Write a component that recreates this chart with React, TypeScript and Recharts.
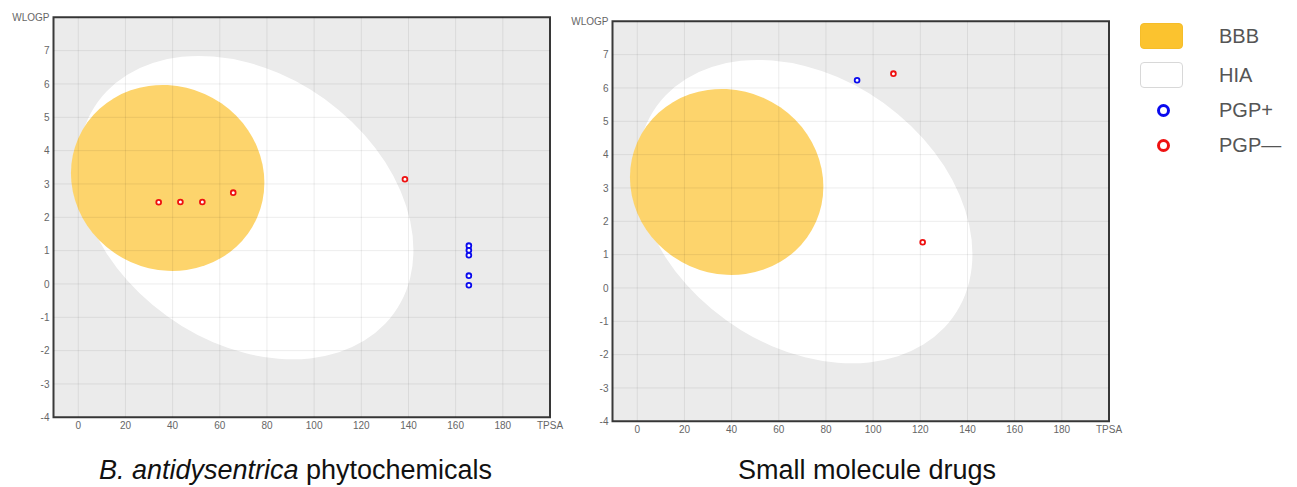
import React from 'react';
import {
  ScatterChart,
  Scatter,
  XAxis,
  YAxis,
  CartesianGrid,
  ReferenceArea,
  ReferenceLine,
} from 'recharts';

// ---- axis ticks ----
const xTicks = [0, 20, 40, 60, 80, 100, 120, 140, 160, 180, 200];
const yTicks = [-4, -3, -2, -1, 0, 1, 2, 3, 4, 5, 6, 7, 8];
const xAxisName = 'TPSA';
const yAxisName = 'WLOGP';
const xDomain = [-10.5, 200];
const yDomain = [-4, 8];

// ---- egg model (data units): center TPSA, center WLOGP, half TPSA, half WLOGP, skew ----
const hiaEllipse = [71.05, 2.29, 71.05, 4.55, 0.28];
const bbbEllipse = [37.9, 3.18, 41.0, 2.79, 0.05];

// ---- left panel: B. antidysentrica phytochemicals ----
const leftPlusTpsa = [165.6, 165.6, 165.6, 165.6, 165.6];
const leftPlusWlogp = [1.15, 1.01, 0.86, 0.25, -0.04];
const leftMinusTpsa = [34.1, 43.3, 52.6, 65.7, 138.5];
const leftMinusWlogp = [2.45, 2.46, 2.46, 2.74, 3.14];

// ---- right panel: small molecule drugs ----
const rightPlusTpsa = [93.2];
const rightPlusWlogp = [6.23];
const rightMinusTpsa = [108.6, 121.0];
const rightMinusWlogp = [6.43, 1.37];

// ---- legend ----
const legendLabels = ['BBB', 'HIA', 'PGP+', 'PGP—'];

const titles = ['phytochemicals', 'Small molecule drugs'];
const titleItalic = 'B. antidysentrica';

const BBB_COLOR = '#fdd46c';
const BBB_LEGEND = '#fbc32f';
const PLUS_COLOR = '#0a0aee';
const MINUS_COLOR = '#ee1111';

const zip = (xs: number[], ys: number[]) => xs.map((x, i) => ({ tpsa: x, wlogp: ys[i] }));

const ellipseShape = (skew: number, fill: string) => (props: any) => {
  const { x, y, width, height } = props;
  const W = Math.abs(width) / 2;
  const H = Math.abs(height) / 2;
  const cx = x + width / 2;
  const cy = y + height / 2;
  const c = Math.sqrt(1 - skew * skew);
  return (
    <circle
      cx={0}
      cy={0}
      r={1}
      fill={fill}
      stroke="none"
      transform={`matrix(${W} ${H * skew} 0 ${H * c} ${cx} ${cy})`}
    />
  );
};

const dot = (color: string) => (props: any) => (
  <circle cx={props.cx} cy={props.cy} r={2.4} fill="#ffffff" stroke={color} strokeWidth={1.8} />
);

const Egg = ({ plus, minus }: { plus: any[]; minus: any[] }) => (
  <ScatterChart width={570} height={445} margin={{ top: 17.3, right: 20, bottom: 7.7, left: 0 }}>
    <CartesianGrid horizontal={false} vertical={false} fill="#ebebeb" />
    <XAxis
      type="number"
      dataKey="tpsa"
      domain={xDomain}
      ticks={xTicks}
      interval={0}
      allowDataOverflow
      axisLine={false}
      tickLine={false}
      tickSize={2}
      tickMargin={3}
      height={20}
      tick={{ fontSize: 10, fill: '#666' }}
      tickFormatter={(v: number) => (v === 200 ? xAxisName : String(v))}
    />
    <YAxis
      type="number"
      dataKey="wlogp"
      domain={yDomain}
      ticks={yTicks}
      interval={0}
      allowDataOverflow
      axisLine={false}
      tickLine={false}
      tickSize={2}
      tickMargin={2}
      width={53.5}
      tick={{ fontSize: 10, fill: '#666' }}
      tickFormatter={(v: number) => (v === 8 ? yAxisName : String(v))}
    />
    <ReferenceArea
      x1={hiaEllipse[0] - hiaEllipse[2]}
      x2={hiaEllipse[0] + hiaEllipse[2]}
      y1={hiaEllipse[1] - hiaEllipse[3]}
      y2={hiaEllipse[1] + hiaEllipse[3]}
      shape={ellipseShape(hiaEllipse[4], '#ffffff')}
    />
    <ReferenceArea
      x1={bbbEllipse[0] - bbbEllipse[2]}
      x2={bbbEllipse[0] + bbbEllipse[2]}
      y1={bbbEllipse[1] - bbbEllipse[3]}
      y2={bbbEllipse[1] + bbbEllipse[3]}
      shape={ellipseShape(bbbEllipse[4], BBB_COLOR)}
    />
    {xTicks.map((t) => (
      <ReferenceLine key={'vx' + t} x={t} stroke="rgba(0,0,0,0.075)" strokeWidth={1} />
    ))}
    {yTicks.map((t) => (
      <ReferenceLine key={'hy' + t} y={t} stroke="rgba(0,0,0,0.075)" strokeWidth={1} />
    ))}
    <ReferenceArea
      x1={xDomain[0]}
      x2={xDomain[1]}
      y1={yDomain[0]}
      y2={yDomain[1]}
      fill="none"
      fillOpacity={0}
      stroke="#3a3a3a"
      strokeWidth={2}
      strokeOpacity={1}
    />
    <Scatter data={minus} shape={dot(MINUS_COLOR)} isAnimationActive={false} />
    <Scatter data={plus} shape={dot(PLUS_COLOR)} isAnimationActive={false} />
  </ScatterChart>
);

const legendRows = [36, 75, 110, 145];

export default function App() {
  return (
    <div
      style={{
        position: 'absolute',
        left: 0,
        top: 0,
        width: 1297,
        height: 487,
        background: '#ffffff',
        fontFamily: '"Liberation Sans", Arial, sans-serif',
        overflow: 'hidden',
      }}
    >
      <div style={{ position: 'absolute', left: 0, top: 0 }}>
        <Egg plus={zip(leftPlusTpsa, leftPlusWlogp)} minus={zip(leftMinusTpsa, leftMinusWlogp)} />
      </div>
      <div style={{ position: 'absolute', left: 559.2, top: 4.3 }}>
        <Egg plus={zip(rightPlusTpsa, rightPlusWlogp)} minus={zip(rightMinusTpsa, rightMinusWlogp)} />
      </div>

      <div
        style={{
          position: 'absolute',
          left: 0,
          top: 457,
          width: 591,
          textAlign: 'center',
          fontSize: 27,
          lineHeight: '27px',
          color: '#111',
          whiteSpace: 'nowrap',
        }}
      >
        <i>{titleItalic}</i> {titles[0]}
      </div>
      <div
        style={{
          position: 'absolute',
          left: 567,
          top: 457,
          width: 600,
          textAlign: 'center',
          fontSize: 27,
          lineHeight: '27px',
          color: '#111',
          whiteSpace: 'nowrap',
        }}
      >
        {titles[1]}
      </div>

      {/* legend */}
      {legendLabels.map((lab, i) => {
        const cy = legendRows[i];
        let marker: React.ReactNode;
        if (i === 0 || i === 1) {
          marker = (
            <div
              style={{
                position: 'absolute',
                left: 1140,
                top: cy - 13,
                width: 43,
                height: 26,
                boxSizing: 'border-box',
                borderRadius: 4,
                background: i === 0 ? BBB_LEGEND : '#ffffff',
                border: i === 0 ? '1px solid #f5bd2a' : '1px solid #d8d8d8',
              }}
            />
          );
        } else {
          marker = (
            <div
              style={{
                position: 'absolute',
                left: 1163 - 6.5,
                top: cy - 6.5,
                width: 13,
                height: 13,
                boxSizing: 'border-box',
                borderRadius: '50%',
                background: '#ffffff',
                border: `3.5px solid ${i === 2 ? PLUS_COLOR : MINUS_COLOR}`,
              }}
            />
          );
        }
        return (
          <React.Fragment key={lab}>
            {marker}
            <div
              style={{
                position: 'absolute',
                left: 1219,
                top: cy - 12,
                height: 24,
                lineHeight: '24px',
                fontSize: 20,
                color: '#555',
                whiteSpace: 'nowrap',
              }}
            >
              {lab}
            </div>
          </React.Fragment>
        );
      })}
    </div>
  );
}
